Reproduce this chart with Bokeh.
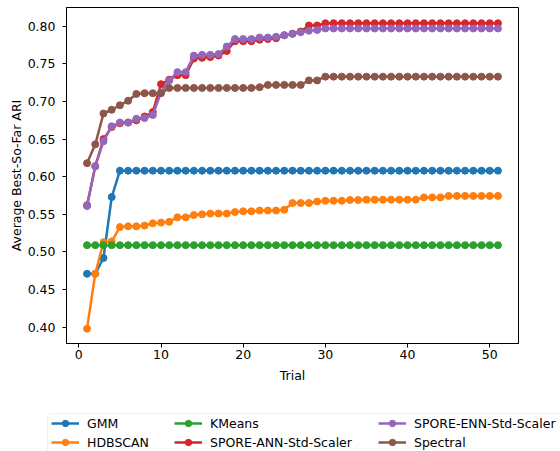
from bokeh.plotting import figure
from bokeh.layouts import column
from bokeh.models import (Legend, LegendItem, FixedTicker, PrintfTickFormatter,
                          Range1d, BoxAnnotation)
from bokeh.embed import file_html
from bokeh.resources import INLINE

trials = list(range(1, 52))

gmm = [0.471, 0.471, 0.492, 0.573, 0.608, 0.608, 0.608, 0.608, 0.608, 0.608,
       0.608, 0.608, 0.608, 0.608, 0.608, 0.608, 0.608, 0.608, 0.608, 0.608,
       0.608, 0.608, 0.608, 0.608, 0.608, 0.608, 0.608, 0.608, 0.608, 0.608,
       0.608, 0.608, 0.608, 0.608, 0.608, 0.608, 0.608, 0.608, 0.608, 0.608,
       0.608, 0.608, 0.608, 0.608, 0.608, 0.608, 0.608, 0.608, 0.608, 0.608,
       0.608]

hdbscan = [0.398, 0.471, 0.513, 0.514, 0.533, 0.534, 0.534, 0.535, 0.538, 0.539,
           0.540, 0.546, 0.546, 0.549, 0.550, 0.551, 0.551, 0.551, 0.553, 0.554,
           0.554, 0.555, 0.555, 0.555, 0.556, 0.565, 0.565, 0.565, 0.567, 0.568,
           0.568, 0.568, 0.569, 0.569, 0.5695, 0.5695, 0.5695, 0.5695, 0.5695, 0.5695,
           0.5695, 0.5725, 0.5725, 0.5725, 0.5745, 0.5745, 0.5745, 0.5745, 0.5745, 0.5745,
           0.5745]

kmeans = [0.509, 0.509, 0.509, 0.509, 0.509, 0.509, 0.509, 0.509, 0.509, 0.509,
          0.509, 0.509, 0.509, 0.509, 0.509, 0.509, 0.509, 0.509, 0.509, 0.509,
          0.509, 0.509, 0.509, 0.509, 0.509, 0.509, 0.509, 0.509, 0.509, 0.509,
          0.509, 0.509, 0.509, 0.509, 0.509, 0.509, 0.509, 0.509, 0.509, 0.509,
          0.509, 0.509, 0.509, 0.509, 0.509, 0.509, 0.509, 0.509, 0.509, 0.509,
          0.509]

spore_ann = [0.562, 0.614, 0.650, 0.666, 0.671, 0.672, 0.675, 0.680, 0.686, 0.723,
             0.729, 0.735, 0.735, 0.757, 0.758, 0.759, 0.761, 0.767, 0.780, 0.780,
             0.780, 0.782, 0.783, 0.784, 0.788, 0.790, 0.793, 0.801, 0.801, 0.804,
             0.804, 0.804, 0.804, 0.804, 0.804, 0.804, 0.804, 0.804, 0.804, 0.804,
             0.804, 0.804, 0.804, 0.804, 0.804, 0.804, 0.804, 0.804, 0.804, 0.804,
             0.804]

spore_enn = [0.561, 0.614, 0.647, 0.667, 0.672, 0.672, 0.677, 0.678, 0.682, 0.712,
             0.728, 0.739, 0.739, 0.761, 0.762, 0.762, 0.763, 0.773, 0.783, 0.783,
             0.783, 0.785, 0.785, 0.786, 0.788, 0.790, 0.792, 0.794, 0.795, 0.797,
             0.797, 0.797, 0.797, 0.797, 0.797, 0.797, 0.797, 0.797, 0.797, 0.797,
             0.797, 0.797, 0.797, 0.797, 0.797, 0.797, 0.797, 0.797, 0.797, 0.797,
             0.797]

spectral = [0.618, 0.643, 0.684, 0.689, 0.695, 0.701, 0.710, 0.711, 0.711, 0.711,
            0.718, 0.718, 0.718, 0.718, 0.718, 0.718, 0.718, 0.718, 0.718, 0.718,
            0.718, 0.719, 0.722, 0.722, 0.722, 0.722, 0.722, 0.728, 0.728, 0.733,
            0.733, 0.733, 0.733, 0.733, 0.733, 0.733, 0.733, 0.733, 0.733, 0.733,
            0.733, 0.733, 0.733, 0.733, 0.733, 0.733, 0.733, 0.733, 0.733, 0.733,
            0.733]

series_names = ["GMM", "HDBSCAN", "KMeans", "SPORE-ANN-Std-Scaler",
                "SPORE-ENN-Std-Scaler", "Spectral"]
series_values = [gmm, hdbscan, kmeans, spore_ann, spore_enn, spectral]
series_colors = ["#1f77b4", "#ff7f0e", "#2ca02c", "#d62728", "#9467bd", "#8c564b"]

x_ticks = [0, 10, 20, 30, 40, 50]
y_ticks = [0.40, 0.45, 0.50, 0.55, 0.60, 0.65, 0.70, 0.75, 0.80]

FONT = "DejaVu Sans"
TICK_SIZE = "12.5px"
LABEL_SIZE = "12.5px"
LEGEND_SIZE = "12.5px"
LINE_W = 2.5
MARK = 7

# ---------------- main chart ----------------
p = figure(width=560, height=400, output_backend="svg", toolbar_location=None,
           x_range=Range1d(-1.5, 53.5), y_range=Range1d(0.3783, 0.8249),
           min_border_left=66, min_border_right=42, min_border_top=7,
           min_border_bottom=57)
p.background_fill_color = "white"
p.border_fill_color = "white"
p.outline_line_color = "black"
p.outline_line_width = 1
p.grid.visible = False

p.xaxis.ticker = FixedTicker(ticks=x_ticks)
p.yaxis.ticker = FixedTicker(ticks=y_ticks)
p.yaxis.formatter = PrintfTickFormatter(format="%.2f")
p.xaxis.axis_label = "Trial"
p.yaxis.axis_label = "Average Best-So-Far ARI"
for ax in (p.xaxis, p.yaxis):
    ax.axis_line_color = "black"
    ax.major_tick_line_color = "black"
    ax.major_tick_in = 0
    ax.major_tick_out = 4
    ax.minor_tick_line_color = None
    ax.major_label_text_font = FONT
    ax.major_label_text_font_size = TICK_SIZE
    ax.major_label_text_color = "black"
    ax.axis_label_text_font = FONT
    ax.axis_label_text_font_size = LABEL_SIZE
    ax.axis_label_text_font_style = "normal"
    ax.axis_label_text_color = "black"
p.xaxis.major_label_standoff = 2
p.yaxis.major_label_standoff = 7
p.xaxis.axis_label_standoff = 6
p.yaxis.axis_label_standoff = 1

for name, vals, col in zip(series_names, series_values, series_colors):
    p.line(trials, vals, line_color=col, line_width=LINE_W)
    p.scatter(trials, vals, size=MARK, fill_color=col, line_color=col)

# ---------------- legend strip ----------------
q = figure(width=560, height=51, output_backend="svg", toolbar_location=None,
           x_axis_type=None, y_axis_type=None,
           x_range=Range1d(-200, -199), y_range=Range1d(0, 1),
           min_border_left=0, min_border_right=0, min_border_top=0,
           min_border_bottom=0)
for fig in (p, q):
    if "frame_align" in fig.properties():
        fig.frame_align = False
q.outline_line_color = None
q.grid.visible = False
q.background_fill_color = "white"
q.border_fill_color = "white"

box = BoxAnnotation(left=47, right=700, top=38, bottom=-60,
                    left_units="screen", right_units="screen",
                    top_units="screen", bottom_units="screen",
                    fill_color="white", fill_alpha=1.0,
                    line_color="#cccccc", line_width=1)
if "border_radius" in box.properties():
    box.border_radius = 3
q.add_layout(box)

items = []
for name, vals, col in zip(series_names, series_values, series_colors):
    lr = q.line(trials, vals, line_color=col, line_width=LINE_W)
    sr = q.scatter(trials, vals, size=MARK, fill_color=col, line_color=col)
    items.append(LegendItem(label=name, renderers=[lr, sr]))

col_x = [51, 174, 378]
for ci in range(3):
    leg = Legend(items=items[2 * ci:2 * ci + 2], location=(col_x[ci], 1),
                 orientation="vertical", border_line_alpha=0,
                 background_fill_alpha=0, padding=0, margin=0, spacing=3,
                 glyph_width=28, glyph_height=16, label_height=16,
                 label_standoff=8, label_text_font=FONT,
                 label_text_font_size=LEGEND_SIZE, label_text_color="black")
    q.add_layout(leg, "center")

layout = column(p, q, spacing=0)
open("out.html", "w").write(file_html(layout, INLINE))
